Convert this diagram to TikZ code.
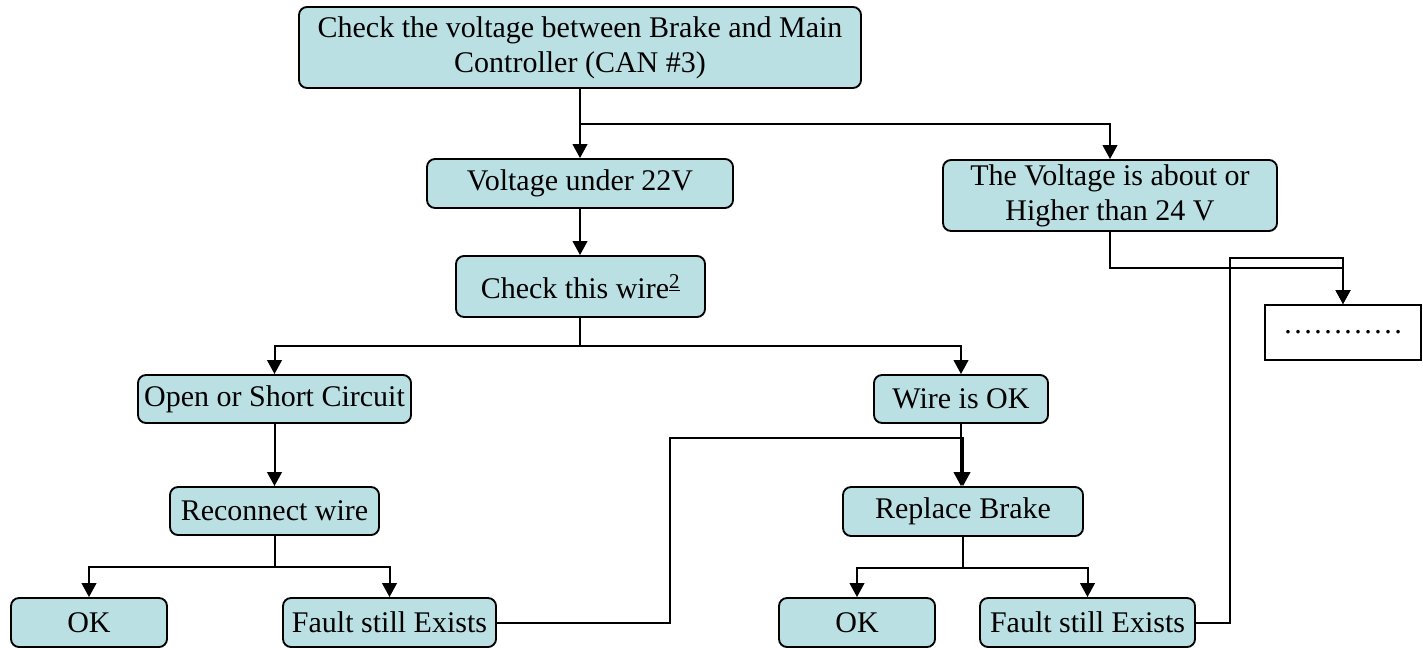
\documentclass[tikz,border=0pt]{standalone}
\usepackage{fontspec}
\setmainfont{Liberation Serif}
\usetikzlibrary{arrows.meta}
\definecolor{boxfill}{RGB}{187,224,228}
\tikzset{
  box/.style={draw=black, line width=1.4pt, fill=boxfill, rounded corners=6pt, inner sep=0pt, align=center,
    font=\fontsize{22.5}{26.25}\selectfont},
  plainbox/.style={draw=black, line width=1.4pt, fill=white, inner sep=0pt, align=center,
    font=\fontsize{22.5}{26.25}\selectfont},
  sz/.style 2 args={minimum width=#1*0.75pt, minimum height=#2*0.75pt},
  conn/.style={line width=1.5pt},
  arr/.style={line width=1.5pt, -{Triangle[length=10.5pt,width=11pt]}}
}
\begin{document}
\begin{tikzpicture}[x=0.75pt,y=-0.75pt]
\useasboundingbox (0,0) rectangle (1423,648);
\node[box, sz={562}{81}] (top) at (580,47.5) {Check the voltage between Brake and Main\\Controller (CAN \#3)};
\node[box, sz={306}{49}] (v22) at (580,183.5) {Voltage under 22V};
\node[box, sz={334}{71}] (v24) at (1110,195.5) {The Voltage is about or\\Higher than 24 V};
\node[box, sz={249}{61}] (check) at (580.5,286.5) {Check this wire\textsuperscript{\underline{2}}};
\node[box, sz={273}{48}] (open) at (274.5,399) {Open or Short Circuit};
\node[box, sz={174}{48}] (wireok) at (961,399) {Wire is OK};
\node[box, sz={209}{48}] (reconnect) at (274.5,511) {Reconnect wire};
\node[box, sz={240}{49}] (replace) at (963,511.5) {Replace Brake};
\node[box, sz={156}{49}] (ok1) at (89,622.5) {OK};
\node[box, sz={213}{49}] (fault1) at (389.5,622.5) {Fault still Exists};
\node[box, sz={156}{49}] (ok2) at (857,622.5) {OK};
\node[box, sz={215}{49}] (fault2) at (1087.5,622.5) {Fault still Exists};
\node[plainbox, sz={156}{55}] (dots) at (1343,332.5) {…………};

\coordinate (b1) at (580,124);
\coordinate (b2) at (580,346);
\coordinate (b3) at (274.5,567);
\coordinate (b4) at (963,568);
\coordinate (k1) at (670,438);
\coordinate (k2) at (1230,258);
\coordinate (k3) at (1110,268);

\draw[arr] (top.south) -- (v22.north);
\draw[arr] (b1) -| (v24.north);
\draw[arr] (v22.south) -- (check.north -| v22.south);
\draw[conn] (check.south -| b2) -- (b2);
\draw[arr] (b2) -| (open.north);
\draw[arr] (b2) -| (wireok.north);
\draw[arr] (open.south) -- (reconnect.north);
\draw[conn] (reconnect.south) -- (b3);
\draw[arr] (b3) -| (ok1.north);
\draw[arr] (b3) -| (fault1.north);
\draw[arr] (wireok.south) -- (wireok.south |- replace.north);
\draw[arr] (fault1.east) -| (k1) -| (replace.north);
\draw[conn] (replace.south) -- (b4);
\draw[arr] (b4) -| (ok2.north);
\draw[arr] (b4) -| (fault2.north);
\draw[arr] (v24.south) -| (k3) -| (dots.north);
\draw[arr] (fault2.east) -| (k2) -| (dots.north);
\end{tikzpicture}
\end{document}
